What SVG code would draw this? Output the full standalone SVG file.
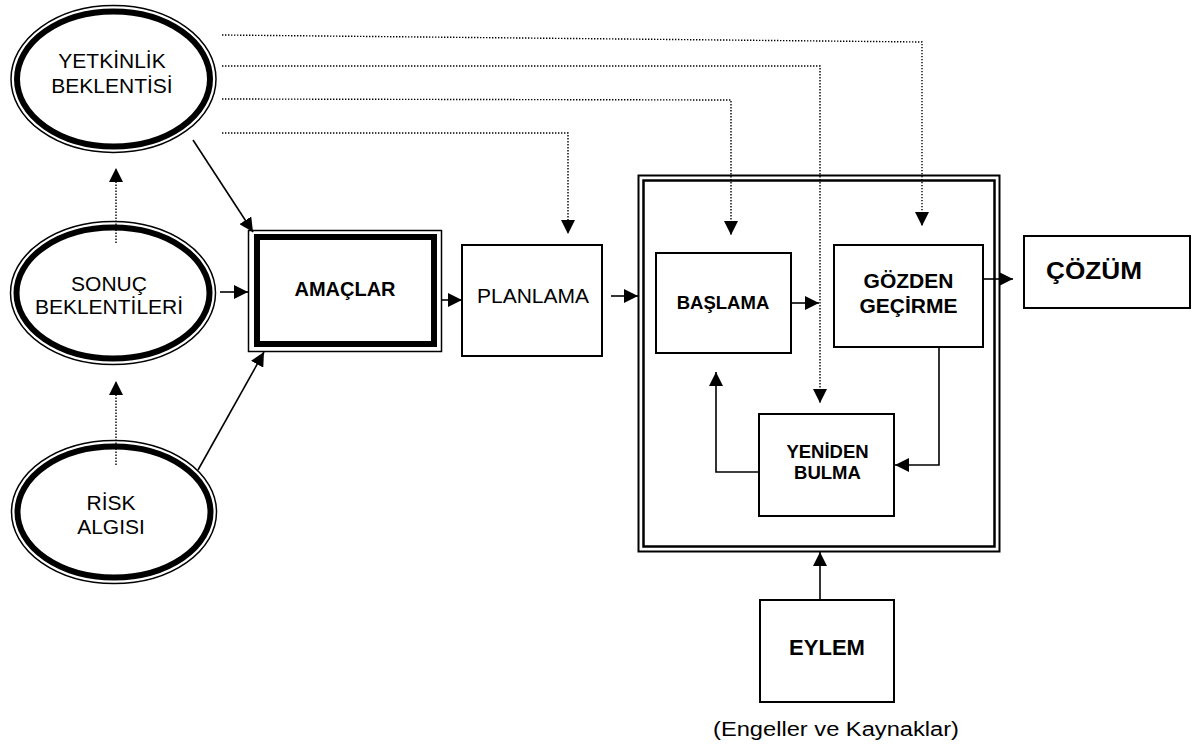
<svg xmlns="http://www.w3.org/2000/svg" width="1192" height="751" viewBox="0 0 1192 751">
<defs>
<style>
text{font-family:"Liberation Sans",Arial,sans-serif;fill:#000;text-anchor:middle}
.r{font-size:21px}
.b{font-weight:bold}
.box{fill:#fff;stroke:#000;stroke-width:2}
.thin{fill:none;stroke:#000;stroke-width:1.5}
.thick{fill:#fff;stroke:#000;stroke-width:6}
.c{fill:none;stroke:#000;stroke-width:1.6}
.d{fill:none;stroke:#000;stroke-width:1.4;stroke-dasharray:1.4 1.6}
</style>
<marker id="ah" viewBox="0 0 14 14" refX="14" refY="7" markerWidth="14" markerHeight="14" markerUnits="userSpaceOnUse" orient="auto">
<path d="M0,0 L14,7 L0,14 z" fill="#000"/>
</marker>
</defs>
<rect width="1192" height="751" fill="#fff"/>

<g id="yetkinlik">
<ellipse class="thin" cx="113.5" cy="79" rx="102.5" ry="73.5"/>
<ellipse class="thick" cx="113.5" cy="79" rx="96.5" ry="67.5"/>
<text class="r" x="112" y="68">YETKİNLİK</text>
<text class="r" x="112" y="93">BEKLENTİSİ</text>
</g>
<g id="sonuc">
<ellipse class="thin" cx="113" cy="293" rx="102.5" ry="71.5"/>
<ellipse class="thick" cx="113" cy="293" rx="96.5" ry="65.5"/>
<text class="r" x="109" y="291">SONUÇ</text>
<text class="r" x="109" y="314">BEKLENTİLERİ</text>
</g>
<g id="risk">
<ellipse class="thin" cx="114" cy="512" rx="102.5" ry="71.5"/>
<ellipse class="thick" cx="114" cy="512" rx="96.5" ry="65.5"/>
<text class="r" x="111" y="510">RİSK</text>
<text class="r" x="111" y="534">ALGISI</text>
</g>

<g id="amaclar">
<rect class="thin" x="248.5" y="230.5" width="193" height="121" fill="#fff"/>
<rect class="thick" x="257" y="237" width="177" height="107" stroke-width="7"/>
<text class="b" x="345" y="296" font-size="20">AMAÇLAR</text>
</g>
<g id="planlama">
<rect class="box" x="462" y="245" width="140" height="111" stroke-width="1.5"/>
<text class="r" x="533" y="303">PLANLAMA</text>
</g>

<g id="surec">
<rect x="638.5" y="175.5" width="361" height="376" fill="#fff" stroke="#000" stroke-width="2"/>
<rect x="643.5" y="180.5" width="351" height="366" fill="none" stroke="#000" stroke-width="2.5"/>
</g>
<g id="baslama">
<rect class="box" x="656" y="253" width="135" height="100"/>
<text class="b" x="723" y="309" font-size="18.5">BAŞLAMA</text>
</g>
<g id="gozden">
<rect class="box" x="834" y="245" width="149" height="102"/>
<text class="b" x="908.5" y="288" font-size="21">GÖZDEN</text>
<text class="b" x="908.5" y="313" font-size="21">GEÇİRME</text>
</g>
<g id="yeniden">
<rect class="box" x="759" y="414" width="135" height="102"/>
<text class="b" x="827.5" y="458" font-size="18.5">YENİDEN</text>
<text class="b" x="827.5" y="479" font-size="18.5">BULMA</text>
</g>
<g id="cozum">
<rect class="box" x="1024" y="236" width="166" height="72"/>
<text class="b" x="1094" y="279" font-size="24" textLength="96" lengthAdjust="spacingAndGlyphs">ÇÖZÜM</text>
</g>
<g id="eylem">
<rect class="box" x="760" y="600" width="134" height="102"/>
<text class="b" x="827" y="655" font-size="22">EYLEM</text>
<text x="836" y="736" font-size="20" textLength="246" lengthAdjust="spacingAndGlyphs">(Engeller ve Kaynaklar)</text>
</g>

<g id="connectors">
<line class="c" x1="193" y1="140" x2="253" y2="232" marker-end="url(#ah)"/>
<line class="c" x1="220" y1="292" x2="248" y2="292" marker-end="url(#ah)"/>
<line class="c" x1="198" y1="470" x2="264" y2="352" marker-end="url(#ah)"/>
<line class="d" x1="116" y1="243" x2="116" y2="168" marker-end="url(#ah)"/>
<line class="d" x1="116" y1="465" x2="116" y2="381" marker-end="url(#ah)"/>
<line class="c" x1="442" y1="300" x2="462" y2="300" marker-end="url(#ah)"/>
<line class="c" x1="611" y1="296" x2="638" y2="296" marker-end="url(#ah)"/>
<line class="c" x1="791" y1="303" x2="819" y2="303" marker-end="url(#ah)"/>
<line class="c" x1="983" y1="279" x2="1013" y2="279" marker-end="url(#ah)"/>
<polyline class="c" points="939,347 939,465 895,465" marker-end="url(#ah)"/>
<polyline class="c" points="759,472 716,472 716,372" marker-end="url(#ah)"/>
<line class="c" x1="820" y1="600" x2="820" y2="552" marker-end="url(#ah)"/>
<polyline class="d" points="222,35 922,42 922,226" marker-end="url(#ah)"/>
<polyline class="d" points="222,66 820,66 820,403" marker-end="url(#ah)"/>
<polyline class="d" points="222,99 731,100 731,235" marker-end="url(#ah)"/>
<polyline class="d" points="222,133 568,133 568,234" marker-end="url(#ah)"/>
</g>
</svg>
